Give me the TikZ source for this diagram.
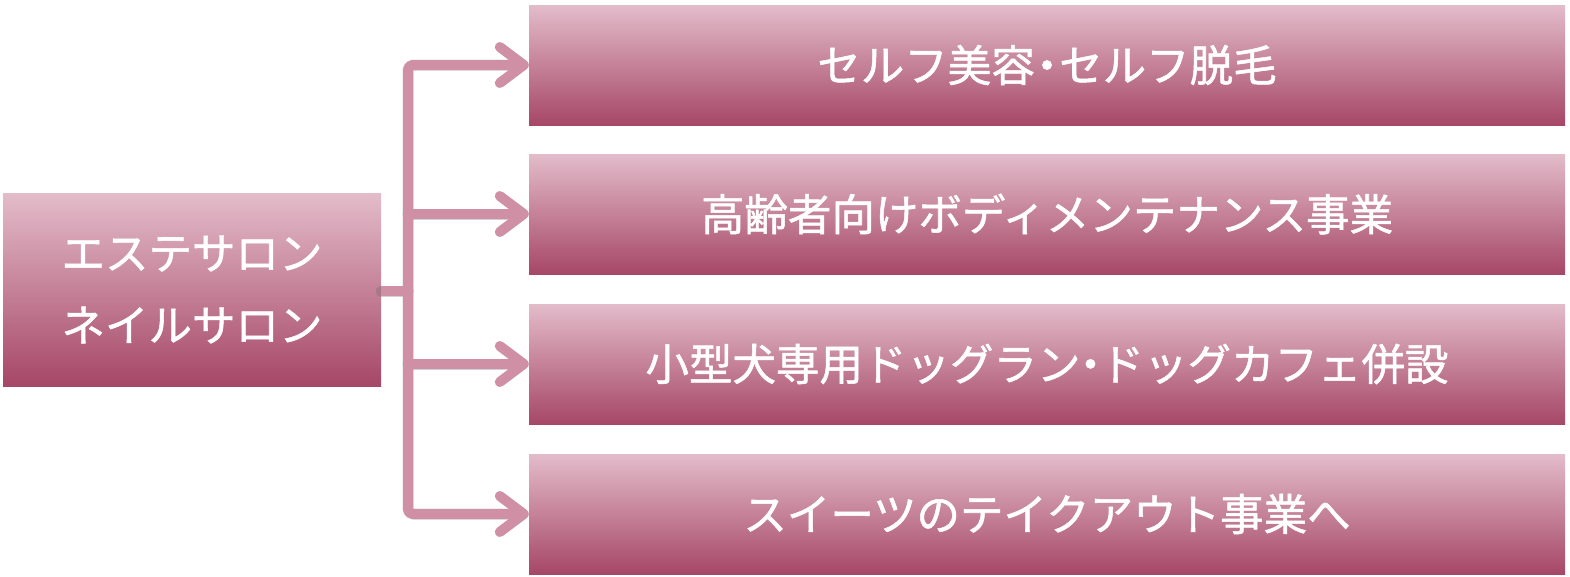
\documentclass[tikz,border=0pt]{standalone}
\usepackage{fontspec}
\newfontfamily\jp[FakeBold=1.2]{Noto Sans CJK JP}
\usetikzlibrary{arrows.meta}
\definecolor{boxtop}{HTML}{E3BCCA}
\definecolor{boxmid}{HTML}{D398AC}
\definecolor{boxbot}{HTML}{A64767}
\definecolor{conncol}{HTML}{CF8FA5}
\newcommand{\ndot}{\hspace{-0.22em}・\hspace{-0.22em}}
\tikzset{
  pbox/.style={draw=none, top color=boxtop, middle color=boxmid, bottom color=boxbot,
    text=white, font=\jp\fontsize{43.5}{72}\selectfont, align=center, inner sep=0pt},
  rbox/.style={pbox, minimum width=1036pt, minimum height=120pt},
  conn/.style={draw=conncol, line width=10pt, line cap=round, line join=round},
  connshadow/.style={draw=black!60, opacity=0.3, line width=11pt, line cap=round, line join=round},
  tip/.style={-{Straight Barb[length=24pt,width=36pt,round]}}
}
\begin{document}
\begin{tikzpicture}[x=1pt,y=-1pt]
\useasboundingbox (0,0) rectangle (1570,576);
\node[pbox, minimum width=378pt, minimum height=193pt] (L) at (192,289.5) {エステサロン\\ネイルサロン};
\node[rbox] (R1) at (1047,65) {セルフ美容\ndot セルフ脱毛};
\node[rbox] (R2) at (1047,214) {高齢者向けボディメンテナンス事業};
\node[rbox] (R3) at (1047,364) {小型犬専用ドッグラン\hspace{-0.27em}・\hspace{-0.27em}ドッグカフェ併設};
\node[rbox] (R4) at (1047,514) {スイーツのテイクアウト事業へ};
\coordinate (J) at (408,291);
% shadows
\begin{scope}[shift={(2,3)}]
\draw[connshadow] (L.east |- J) -- (J);
\draw[connshadow, rounded corners=5pt] (J) |- ([xshift=-7pt]R1.west);
\draw[connshadow, rounded corners=5pt] (J) |- ([xshift=-7pt]R4.west);
\draw[connshadow] (J |- R2.west) -- ([xshift=-7pt]R2.west);
\draw[connshadow] (J |- R3.west) -- ([xshift=-7pt]R3.west);
\end{scope}
% connectors
\draw[conn, line cap=butt] (L.east |- J) -- (J);
\draw[conn, tip, rounded corners=5pt] (J) |- (R1.west);
\draw[conn, tip, rounded corners=5pt] (J) |- (R4.west);
\draw[conn, tip] (J |- R2.west) -- (R2.west);
\draw[conn, tip] (J |- R3.west) -- (R3.west);
\end{tikzpicture}
\end{document}
